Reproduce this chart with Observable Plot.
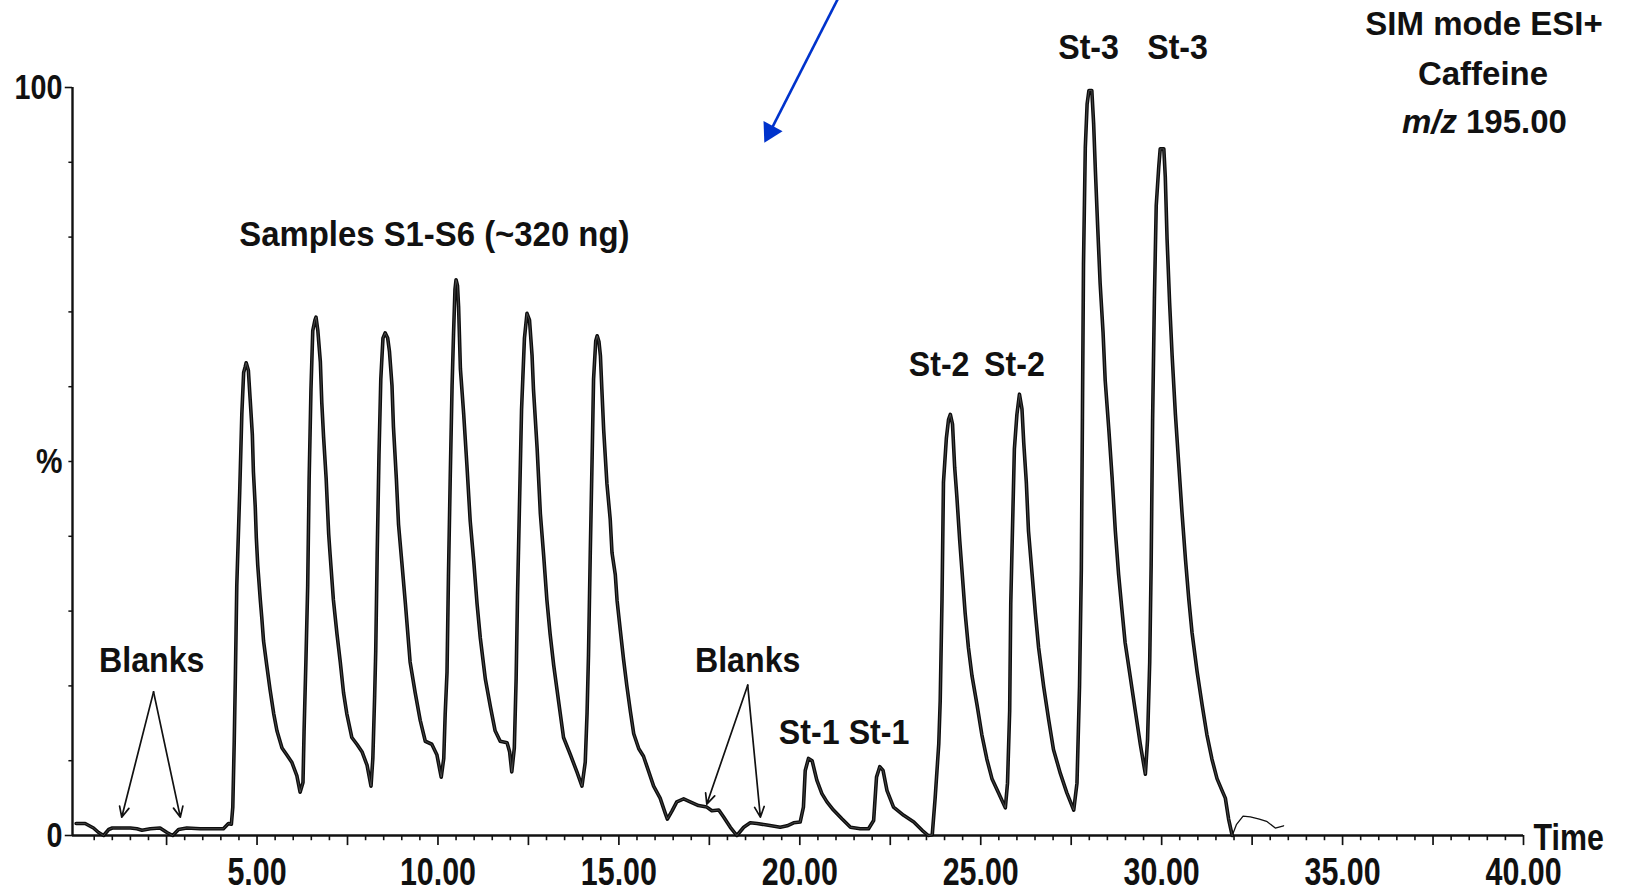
<!DOCTYPE html>
<html><head><meta charset="utf-8">
<script src="https://cdn.jsdelivr.net/npm/d3@7"></script>
<script src="https://cdn.jsdelivr.net/npm/@observablehq/plot@0.6"></script>
<style>html,body{margin:0;padding:0;background:#fff;} svg{display:block}</style>
</head><body><div id="chart"></div>
<script>
// Chromatogram trace (time in min, relative intensity in %)
const traceTime = [0.00,0.25,0.48,0.62,0.76,0.90,1.00,1.22,1.50,1.68,1.82,2.05,2.32,2.51,2.67,2.83,3.06,3.43,4.07,4.21,
4.29,4.33,4.37,4.40,4.44,4.52,4.58,4.63,4.67,4.70,4.76,4.81,4.87,4.90,4.95,4.98,5.02,5.09,5.13,5.18,5.27,5.36,5.46,5.55,5.69,5.82,5.96,6.10,6.19,6.27,
6.30,6.35,6.40,6.44,6.49,6.54,6.60,6.63,6.68,6.75,6.79,6.84,6.91,6.98,7.02,7.11,7.21,7.30,7.39,7.48,7.62,7.76,7.90,8.04,8.15,
8.20,8.25,8.28,8.32,8.37,8.42,8.48,8.54,8.61,8.66,8.73,8.77,8.85,8.91,9.00,9.10,9.23,9.37,9.51,9.65,9.83,9.97,10.09,
10.16,10.20,10.25,10.29,10.34,10.39,10.43,10.47,10.50,10.54,10.57,10.62,10.71,10.80,10.89,10.99,11.08,11.17,11.31,11.45,11.58,11.72,11.91,11.98,12.04,
12.11,12.16,12.20,12.26,12.31,12.39,12.46,12.53,12.60,12.64,12.74,12.83,12.92,13.01,13.10,13.20,13.34,13.47,13.66,13.84,13.98,
14.07,14.12,14.16,14.21,14.26,14.30,14.36,14.40,14.45,14.49,14.53,14.58,14.67,14.76,14.81,14.90,14.95,15.04,15.13,15.22,15.32,15.41,15.55,15.68,15.82,15.96,16.14,16.28,16.34,
16.47,16.60,16.79,16.97,17.20,17.43,17.57,17.76,17.89,18.08,18.26,18.45,18.63,18.82,19.09,19.46,19.65,19.83,20.01,
20.10,20.15,20.24,20.34,20.47,20.61,20.75,20.93,21.17,21.40,21.67,21.90,
22.04,22.12,22.21,22.30,22.41,22.59,22.87,23.15,23.38,23.55,23.66,
23.74,23.84,23.88,23.93,23.97,24.05,24.11,24.16,24.22,24.28,24.34,24.42,24.48,24.57,24.66,24.76,24.90,25.03,25.17,25.31,25.49,25.68,
25.74,25.80,25.83,25.87,25.93,26.00,26.07,26.14,26.19,26.26,26.32,26.42,26.51,26.60,26.74,26.88,27.01,27.20,27.38,27.57,
27.66,27.73,27.78,27.81,27.84,27.89,27.94,27.99,28.07,28.12,28.17,28.23,28.30,28.38,28.44,28.54,28.63,28.72,28.81,28.90,28.99,29.13,29.27,29.41,29.55,
29.61,29.67,29.71,29.75,29.80,29.85,29.92,29.96,30.06,30.10,30.15,30.22,30.29,30.38,30.47,30.56,30.66,30.75,30.84,30.98,31.12,31.25,31.39,31.53,31.67,31.76,31.85,31.95];
const traceIntensity = [1.6,1.6,1.0,0.4,0.0,0.8,1.0,1.0,1.0,0.9,0.7,0.9,1.0,0.4,0.0,0.8,1.0,0.9,0.9,1.6,
1.5,3.8,12.6,20.9,33.4,45.8,56.4,61.9,62.6,63.2,62.2,58.3,53.6,48.6,44.0,39.8,36.1,31.5,29.2,26.0,22.7,19.5,16.3,14.0,11.7,10.8,9.8,8.0,5.8,7.1,
14.0,23.2,33.4,47.7,59.6,67.5,68.9,69.3,67.5,63.3,57.8,53.2,47.7,40.3,37.5,31.5,26.9,23.2,19.1,16.3,13.1,12.2,11.2,9.4,6.6,
10.3,18.6,24.6,37.5,50.9,61.0,66.5,67.2,66.5,64.7,60.1,54.6,47.7,41.6,36.6,31.0,23.2,19.1,15.4,12.6,12.2,10.8,7.8,
10.3,16.3,21.8,34.7,48.1,60.1,67.0,73.0,74.3,73.5,70.7,62.4,56.4,49.5,42.1,36.6,31.0,26.4,20.9,17.2,14.0,12.6,12.4,11.2,8.5,
11.7,20.9,32.4,45.8,56.9,66.5,69.8,68.9,64.2,59.6,51.8,43.0,37.5,31.5,26.9,22.7,17.7,13.1,10.8,8.5,6.6,
9.8,16.3,24.1,38.0,50.4,61.0,66.1,66.8,66.0,64.1,59.6,54.2,47.0,42.3,37.8,34.9,31.4,27.4,23.5,20.0,16.5,13.6,11.6,10.6,8.6,6.6,5.0,3.0,2.2,
3.3,4.5,4.9,4.5,4.0,3.8,3.3,3.4,2.5,1.1,0.0,1.1,1.7,1.6,1.4,1.1,1.3,1.7,1.8,
3.8,8.7,10.3,10.0,7.4,5.6,4.5,3.4,2.2,1.1,0.9,0.9,
2.0,7.8,9.2,8.7,6.0,3.8,2.7,1.8,0.7,0.0,0.1,
5.0,12.2,18.0,31.6,47.2,53.1,55.6,56.3,55.0,49.2,45.3,39.4,35.5,29.7,25.1,21.3,17.4,13.5,10.2,7.6,5.7,3.7,
7.0,16.7,31.0,39.4,51.7,56.3,59.0,57.0,52.4,47.2,40.7,34.9,29.7,25.1,19.9,15.4,11.5,8.3,5.7,3.4,
7.0,19.9,35.5,55.6,76.4,92.0,97.8,99.6,99.6,95.2,88.7,81.6,73.8,67.3,60.8,54.3,47.9,40.7,34.9,30.3,25.8,21.3,16.7,12.2,8.2,
12.8,23.2,36.2,55.6,71.9,84.2,89.4,91.8,91.8,88.1,79.7,71.2,64.1,56.3,49.8,43.3,36.8,31.6,27.1,21.9,17.4,13.5,10.2,7.6,6.0,5.0,2.2,0.0];
// thin end of the run
const tailTime = [31.95,32.07,32.25,32.45,32.70,32.90,33.14,33.37];
const tailIntensity = [0.0,1.5,2.6,2.5,2.2,1.9,1.0,1.3];

const xTickValues = [5,10,15,20,25,30,35,40];
const xTickLabels = ["5.00","10.00","15.00","20.00","25.00","30.00","35.00","40.00"];
const yTickValues = [0,50,100];
const yTickLabels = ["0","%","100"];

const labelText = ["Samples S1-S6 (~320 ng)","Blanks","Blanks","St-1","St-1","St-2","St-2","St-3","St-3"];
const labelTime = [9.90,2.09,18.56,20.26,22.19,23.85,25.93,27.98,30.44];
const labelLevel = [80.3,23.3,23.4,13.7,13.7,62.9,62.9,105.3,105.3];

const infoText = ["SIM mode ESI+","Caffeine"];
const infoTime = [38.91,38.88];
const infoLevel = [108.4,101.7];

// Blanks pointers: apex -> tip
const pointerFromTime = [2.14,2.14,18.56,18.56];
const pointerFromLevel = [19.2,19.2,20.1,20.1];
const pointerToTime = [1.26,2.88,17.43,18.91];
const pointerToLevel = [2.45,2.45,4.2,2.45];

const font = "'Liberation Sans', Arial, Helvetica, sans-serif";
const idx = a => a.map((_, i) => i);

const xMinor = d3.range(0.5, 40.01, 0.5).filter(v => Math.abs(v / 2.5 - Math.round(v / 2.5)) > 1e-6);
const xMajor = d3.range(2.5, 40.01, 2.5);
const yMinor = d3.range(10, 91, 10);

const chart = Plot.plot({
  width: 1625, height: 892,
  marginLeft: 72, marginRight: 102, marginTop: 87, marginBottom: 57,
  x: {domain: [-0.1, 40], axis: null},
  y: {domain: [0, 100], axis: null},
  style: {background: "white", overflow: "visible", fontFamily: font},
  marks: [
    Plot.ruleX(xMinor, {y1: 0, y2: -0.7, stroke: "#111", strokeWidth: 1.6}),
    Plot.ruleX(xMajor, {y1: 0, y2: -1.35, stroke: "#111", strokeWidth: 1.7}),
    Plot.ruleY(yMinor, {x1: -0.1, x2: -0.2, stroke: "#111", strokeWidth: 1.5}),
    Plot.ruleY([0, 100], {x1: -0.1, x2: -0.3, stroke: "#111", strokeWidth: 1.6}),
    Plot.ruleY([0], {x1: -0.1, x2: 40, stroke: "#111", strokeWidth: 2.4}),
    Plot.ruleX([-0.1], {y1: 0, y2: 100, stroke: "#111", strokeWidth: 2.4}),
    Plot.line(idx(tailTime), {x: i => tailTime[i], y: i => tailIntensity[i], stroke: "#111", strokeWidth: 1.3}),
    Plot.line(idx(traceTime), {x: i => traceTime[i], y: i => traceIntensity[i], stroke: "#0d0d0d", strokeWidth: 3.6, strokeLinejoin: "round"}),
    Plot.line(idx(traceTime), {x: i => traceTime[i], y: i => traceIntensity[i], stroke: "#6a6a6a", strokeWidth: 0.6}),
    Plot.text(idx(xTickValues), {x: i => xTickValues[i], y: 0, text: i => xTickLabels[i], dy: 37, fontSize: 38, fontWeight: "bold", fill: "#111"}),
    Plot.text(idx(yTickValues), {x: -0.1, y: i => yTickValues[i], text: i => yTickLabels[i], dx: -10, textAnchor: "end", fontSize: 35, fontWeight: "bold", fill: "#111"}),
    Plot.text(["Time"], {x: 40, y: 0, text: d => d, dx: 10, dy: 3, textAnchor: "start", fontSize: 37, fontWeight: "bold", fill: "#111"}),
    Plot.text(idx(labelText), {x: i => labelTime[i], y: i => labelLevel[i], text: i => labelText[i], fontSize: 35, fontWeight: "bold", fill: "#111"}),
    Plot.text(idx(infoText), {x: i => infoTime[i], y: i => infoLevel[i], text: i => infoText[i], fontSize: 33, fontWeight: "bold", fill: "#111"}),
    Plot.text(["m/z"], {x: 38.16, y: 95.3, text: d => d, textAnchor: "end", fontSize: 33, fontWeight: "bold", fontStyle: "italic", fill: "#111"}),
    Plot.text(["195.00"], {x: 38.16, y: 95.3, text: d => d, dx: 9, textAnchor: "start", fontSize: 33, fontWeight: "bold", fill: "#111"}),
    Plot.arrow(idx(pointerFromTime), {x1: i => pointerFromTime[i], y1: i => pointerFromLevel[i], x2: i => pointerToTime[i], y2: i => pointerToLevel[i], stroke: "#111", strokeWidth: 1.7, headLength: 10, headAngle: 50}),
    Plot.link([0], {x1: 21.12, y1: 112.5, x2: 19.18, y2: 94.1, stroke: "#0033cc", strokeWidth: 2.6}),
    Plot.dot([0], {x: 19.18, y: 94.1, symbol: "triangle", r: 8, fill: "#0033cc", stroke: null, rotate: 207.85})
  ]
});

// condensed lettering of the original figure
const squeeze = new Map([
  ...xTickLabels.map(s => [s, 0.8]),
  ["0", 0.82], ["100", 0.82], ["%", 0.85], ["Time", 0.82],
  ["Blanks", 0.92], ["St-1", 0.92], ["St-2", 0.92], ["St-3", 0.92],
  ["Samples S1-S6 (~320 ng)", 0.94]
]);
chart.querySelectorAll("text").forEach(t => {
  const s = squeeze.get(t.textContent);
  if (!s) return;
  let tr = t.getAttribute("transform") || "";
  const x = t.getAttribute("x");
  if (x !== null && x !== "" && !isNaN(+x)) { tr += ` translate(${x},0)`; t.setAttribute("x", "0"); }
  t.setAttribute("transform", tr + ` scale(${s},1)`);
});
document.getElementById("chart").appendChild(chart);
</script></body></html>
